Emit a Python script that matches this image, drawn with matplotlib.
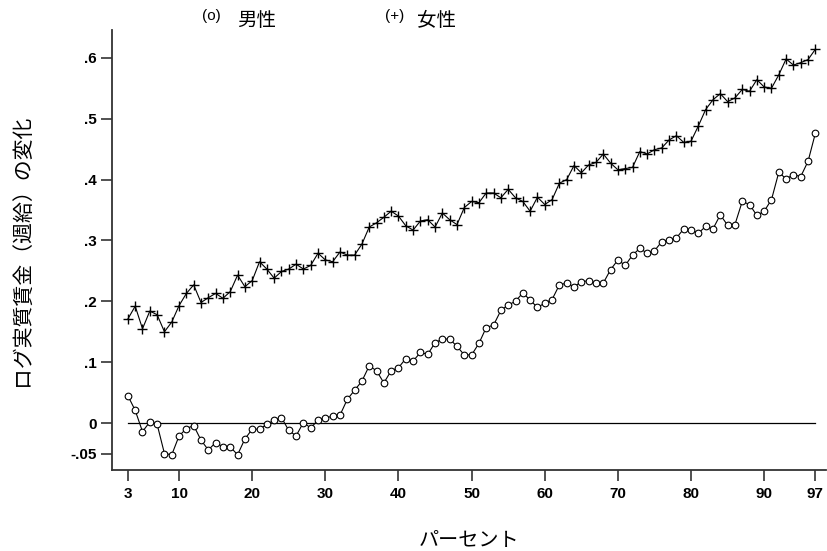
import matplotlib
matplotlib.use("Agg")
import matplotlib.pyplot as plt
import numpy as np

plt.rcParams['font.family'] = ['Noto Sans CJK JP', 'DejaVu Sans']

percentiles = list(range(3, 98))

men = [0.045, 0.021, -0.014, 0.002, -0.002, -0.050, -0.052, -0.021, -0.009, -0.004,
       -0.028, -0.044, -0.032, -0.039, -0.039, -0.052, -0.026, -0.010, -0.010, -0.002,
       0.005, 0.009, -0.012, -0.021, 0.001, -0.008, 0.005, 0.009, 0.011, 0.013,
       0.039, 0.054, 0.069, 0.094, 0.086, 0.066, 0.086, 0.091, 0.106, 0.102,
       0.116, 0.113, 0.132, 0.138, 0.138, 0.126, 0.112, 0.112, 0.131, 0.157,
       0.161, 0.185, 0.194, 0.200, 0.214, 0.202, 0.190, 0.197, 0.203, 0.227,
       0.230, 0.224, 0.232, 0.234, 0.230, 0.230, 0.252, 0.268, 0.259, 0.276,
       0.287, 0.279, 0.283, 0.298, 0.301, 0.304, 0.319, 0.317, 0.312, 0.323,
       0.319, 0.342, 0.325, 0.326, 0.364, 0.359, 0.341, 0.348, 0.367, 0.412,
       0.401, 0.408, 0.405, 0.430, 0.476]

women = [0.171, 0.192, 0.155, 0.184, 0.178, 0.150, 0.166, 0.193, 0.213, 0.227,
         0.198, 0.206, 0.213, 0.205, 0.216, 0.243, 0.224, 0.234, 0.265, 0.253,
         0.238, 0.249, 0.253, 0.261, 0.253, 0.259, 0.279, 0.268, 0.265, 0.281,
         0.276, 0.276, 0.294, 0.322, 0.329, 0.338, 0.348, 0.340, 0.324, 0.317,
         0.332, 0.334, 0.322, 0.345, 0.334, 0.326, 0.354, 0.364, 0.362, 0.378,
         0.378, 0.370, 0.384, 0.370, 0.364, 0.348, 0.371, 0.359, 0.367, 0.394,
         0.400, 0.423, 0.411, 0.424, 0.428, 0.442, 0.427, 0.416, 0.418, 0.420,
         0.446, 0.442, 0.449, 0.452, 0.465, 0.472, 0.461, 0.463, 0.488, 0.515,
         0.531, 0.541, 0.528, 0.534, 0.548, 0.545, 0.564, 0.552, 0.550, 0.572,
         0.598, 0.588, 0.592, 0.597, 0.614]

xticks = [3, 10, 20, 30, 40, 50, 60, 70, 80, 90, 97]
xticklabels = ['3', '10', '20', '30', '40', '50', '60', '70', '80', '90', '97']
yticks = [-0.05, 0, 0.1, 0.2, 0.3, 0.4, 0.5, 0.6]
yticklabels = ['-.05', '0', '.1', '.2', '.3', '.4', '.5', '.6']

fig = plt.figure(figsize=(8.28, 5.51), dpi=100)
ax = fig.add_axes([0.135, 0.147, 0.863, 0.799])

ax.plot([percentiles[0], percentiles[-1]], [0, 0], color='black', lw=0.9)
ax.plot(percentiles, women, color='black', lw=0.8, marker='+', ms=6.5, mew=1.0)
ax.plot(percentiles, men, color='black', lw=0.8, marker='o', ms=4.8, mew=0.8,
        markerfacecolor='white')

ax.set_xlim(0.8, 98.5)
ax.set_ylim(-0.077, 0.646)
ax.set_xticks(xticks)
ax.set_xticklabels(xticklabels, fontfamily='Liberation Sans', fontweight='bold', fontsize=11)
ax.set_yticks(yticks)
ax.set_yticklabels(yticklabels, fontfamily='Liberation Sans', fontweight='bold', fontsize=11)
ax.tick_params(axis='both', direction='out', length=8, width=1.2, color='#333333')
ax.tick_params(axis='x', pad=4)
ax.tick_params(axis='y', pad=3)
for s in ['top', 'right']:
    ax.spines[s].set_visible(False)
for s in ['left', 'bottom']:
    ax.spines[s].set_linewidth(1.3)
    ax.spines[s].set_color('#333333')

ax.set_xlabel('パーセント', fontsize=14.5, labelpad=21)
ax.set_ylabel('ログ実質賃金（週給）の変化', fontsize=15, labelpad=26)

fig.text(202/828, 1 - 16/551, '(o)', fontsize=11, va='center', ha='left',
         fontfamily='Liberation Sans')
fig.text(237/828, 1 - 21/551, '男性', fontsize=14, va='center', ha='left')
fig.text(385/828, 1 - 16/551, '(+)', fontsize=11, va='center', ha='left',
         fontfamily='Liberation Sans')
fig.text(417/828, 1 - 21/551, '女性', fontsize=14, va='center', ha='left')

fig.savefig('out.png', dpi=100)
